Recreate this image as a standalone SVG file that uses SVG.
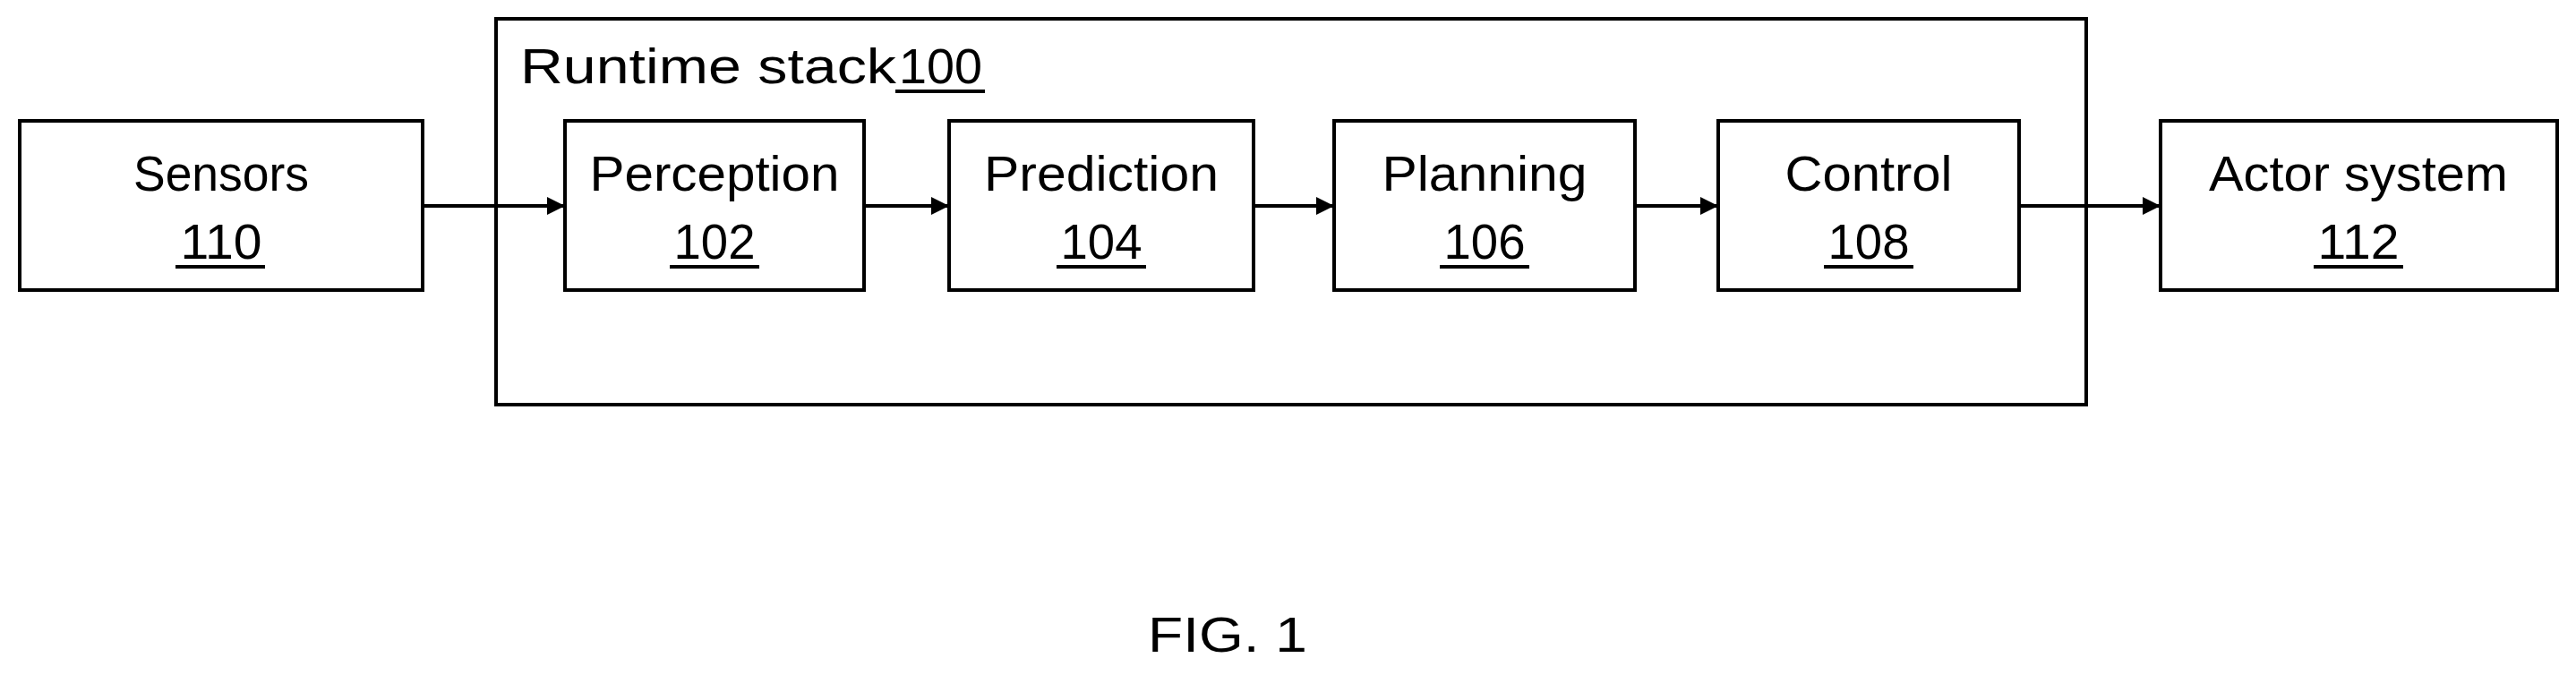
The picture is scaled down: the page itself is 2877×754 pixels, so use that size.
<svg xmlns="http://www.w3.org/2000/svg" width="2877" height="754" viewBox="0 0 2877 754">
<style>
rect{fill:none;stroke:#000;stroke-width:4}
text{font-family:"Liberation Sans",Arial,sans-serif;font-size:56px;fill:#000}
.c{text-anchor:middle}
.u{stroke:#000;stroke-width:4}
.a{stroke:#000;stroke-width:4;fill:none;marker-end:url(#ah)}
</style>
<defs><marker id="ah" viewBox="0 0 10 10" refX="10" refY="5" markerWidth="5" markerHeight="5" markerUnits="strokeWidth" orient="auto"><path d="M0,0L10,5L0,10z" fill="#000"/></marker></defs>
<rect x="0" y="0" width="2877" height="754" style="fill:#fff;stroke:none"/>
<g id="runtime"><rect x="554" y="21" width="1776" height="431"/>
<text x="581" y="93" textLength="420" lengthAdjust="spacingAndGlyphs">Runtime stack</text><text x="1004" y="93" textLength="93" lengthAdjust="spacingAndGlyphs">100</text><line class="u" x1="1000" y1="102" x2="1100" y2="102"/></g>
<g id="sensors"><rect x="22" y="135" width="450" height="189"/><text class="c" x="247" y="213" textLength="196" lengthAdjust="spacingAndGlyphs">Sensors</text><text class="c" x="247" y="289" textLength="91" lengthAdjust="spacingAndGlyphs">110</text><line class="u" x1="196" y1="298" x2="296" y2="298"/></g>
<g id="perception"><rect x="631" y="135" width="334" height="189"/><text class="c" x="798" y="213" textLength="279" lengthAdjust="spacingAndGlyphs">Perception</text><text class="c" x="798" y="289" textLength="91" lengthAdjust="spacingAndGlyphs">102</text><line class="u" x1="748" y1="298" x2="848" y2="298"/></g>
<g id="prediction"><rect x="1060" y="135" width="340" height="189"/><text class="c" x="1230" y="213" textLength="262" lengthAdjust="spacingAndGlyphs">Prediction</text><text class="c" x="1230" y="289" textLength="91" lengthAdjust="spacingAndGlyphs">104</text><line class="u" x1="1180" y1="298" x2="1280" y2="298"/></g>
<g id="planning"><rect x="1490" y="135" width="336" height="189"/><text class="c" x="1658" y="213" textLength="229" lengthAdjust="spacingAndGlyphs">Planning</text><text class="c" x="1658" y="289" textLength="91" lengthAdjust="spacingAndGlyphs">106</text><line class="u" x1="1608" y1="298" x2="1708" y2="298"/></g>
<g id="control"><rect x="1919" y="135" width="336" height="189"/><text class="c" x="2087" y="213" textLength="187" lengthAdjust="spacingAndGlyphs">Control</text><text class="c" x="2087" y="289" textLength="91" lengthAdjust="spacingAndGlyphs">108</text><line class="u" x1="2037" y1="298" x2="2137" y2="298"/></g>
<g id="actor"><rect x="2413" y="135" width="443" height="189"/><text class="c" x="2634" y="213" textLength="334" lengthAdjust="spacingAndGlyphs">Actor system</text><text class="c" x="2634" y="289" textLength="91" lengthAdjust="spacingAndGlyphs">112</text><line class="u" x1="2584" y1="298" x2="2684" y2="298"/></g>
<g id="connectors">
<line class="a" x1="472" y1="230" x2="631" y2="230"/>
<line class="a" x1="965" y1="230" x2="1060" y2="230"/>
<line class="a" x1="1400" y1="230" x2="1490" y2="230"/>
<line class="a" x1="1826" y1="230" x2="1919" y2="230"/>
<line class="a" x1="2255" y1="230" x2="2413" y2="230"/>
</g>
<text class="c" x="1371" y="728" textLength="178" lengthAdjust="spacingAndGlyphs">FIG. 1</text>
</svg>
